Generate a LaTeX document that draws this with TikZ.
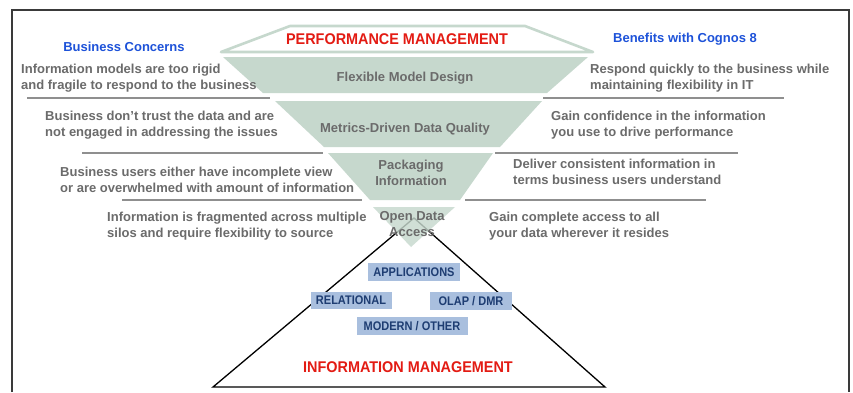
\documentclass[tikz,border=0pt]{standalone}
\usepackage{fontspec}
\usepackage{graphicx}
\setmainfont{Liberation Sans}
\definecolor{funnelgreen}{HTML}{C6D8CD}
\definecolor{txtgrey}{HTML}{6B6B6B}
\definecolor{rulegrey}{HTML}{8F8F8F}
\definecolor{headblue}{HTML}{1D52D9}
\definecolor{headred}{HTML}{E31B13}
\definecolor{boxfill}{HTML}{A9BFDE}
\definecolor{boxtext}{HTML}{1E3D72}
\definecolor{framegrey}{HTML}{3A3A3A}
\tikzset{
  sidetext/.style={font=\fontsize{13}{16}\selectfont\bfseries, text=txtgrey,
    align=left, inner sep=0pt, anchor=west},
  bandtext/.style={font=\fontsize{13}{16}\selectfont\bfseries, text=txtgrey,
    align=center, inner sep=0pt},
  heading/.style={font=\fontsize{13}{16}\selectfont\bfseries, text=headblue, inner sep=0pt},
  bigtitle/.style={font=\fontsize{15.5}{18}\selectfont\bfseries, text=headred, inner sep=0pt},
  sourcebox/.style={fill=boxfill, text=boxtext, inner sep=0pt,
    font=\fontsize{12.5}{14}\selectfont\bfseries},
  separator/.style={draw=rulegrey, line width=1.2pt},
  band/.style={fill=funnelgreen}
}
\newcommand{\boxlabel}[1]{\scalebox{0.88}[1]{#1}}
\begin{document}
\begin{tikzpicture}[x=1pt, y=-1pt]
  \useasboundingbox (0,0) rectangle (853,392);
  \fill[white] (0,0) rectangle (853,392);

  % outer frame, open at the bottom
  \draw[framegrey, line width=1.4pt] (12,392) -- (12,10) -- (849,10) -- (849,392);

  % performance management lid
  \draw[funnelgreen, fill=white, line width=2.6pt, line join=round]
    (221,52) -- (290,26) -- (525,26) -- (593,52) -- cycle;

  % funnel bands
  \fill[band] (223,57) -- (588,57) -- (547,93) -- (263,93) -- cycle;
  \fill[band] (275,101) -- (542,101) -- (500,147) -- (324,147) -- cycle;
  \fill[band] (328,153) -- (493,153) -- (460,200) -- (370,200) -- cycle;

  % information management pyramid
  \draw[black, line width=1.3pt, line join=miter]
    (213,387) -- (414,218) -- (605,387) -- cycle;

  % tip of the funnel lies over the pyramid apex
  \fill[band, opacity=0.82] (373,207) -- (455,207) -- (411,247) -- cycle;

  % separators between the rows
  \draw[separator] (27,98) -- (270,98);
  \draw[separator] (82,153) -- (323,153);
  \draw[separator] (122,200) -- (362,200);
  \draw[separator] (543,98) -- (784,98);
  \draw[separator] (495,153) -- (738,153);
  \draw[separator] (465,200) -- (706,200);

  % titles
  \node[bigtitle] (perf) at (397,39) {\scalebox{0.93}[1]{PERFORMANCE MANAGEMENT}};
  \node[bigtitle] (info) at (408,367) {\scalebox{0.93}[1]{INFORMATION MANAGEMENT}};
  \node[heading] (concerns) at (124,47) {Business Concerns};
  \node[heading] (benefits) at (685,39) {Benefits with Cognos 8};

  % funnel band labels
  \node[bandtext] (flex) at (405,78) {Flexible Model Design};
  \node[bandtext] (metrics) at (405,129) {Metrics-Driven Data Quality};
  \node[bandtext] (pack) at (411,173) {Packaging\\Information};
  \node[bandtext] (open) at (412,224) {Open Data\\Access};

  % business concerns
  \node[sidetext] (c1) at (21,78.5) {Information models are too rigid\\and fragile to respond to the business};
  \node[sidetext] (c2) at (45,125) {Business don't trust the data and are\\not engaged in addressing the issues};
  \node[sidetext] (c3) at (60,180) {Business users either have incomplete view\\or are overwhelmed with amount of information};
  \node[sidetext] (c4) at (107,226.5) {Information is fragmented across multiple\\silos and require flexibility to source};

  % benefits
  \node[sidetext] (b1) at (590,78) {Respond quickly to the business while\\maintaining flexibility in IT};
  \node[sidetext] (b2) at (551,125) {Gain confidence in the information\\you use to drive performance};
  \node[sidetext] (b3) at (513,172) {Deliver consistent information in\\terms business users understand};
  \node[sidetext] (b4) at (489,226.5) {Gain complete access to all\\your data wherever it resides};

  % data sources inside the pyramid
  \node[sourcebox, minimum width=92pt, minimum height=18pt] (apps) at (414,272) {\boxlabel{APPLICATIONS}};
  \node[sourcebox, minimum width=81pt, minimum height=17pt] (rel) at (351,300) {\boxlabel{RELATIONAL}};
  \node[sourcebox, minimum width=82pt, minimum height=18pt] (olap) at (471,301) {\boxlabel{OLAP / DMR}};
  \node[sourcebox, minimum width=111pt, minimum height=18pt] (modern) at (412,326) {\boxlabel{MODERN / OTHER}};
\end{tikzpicture}
\end{document}
